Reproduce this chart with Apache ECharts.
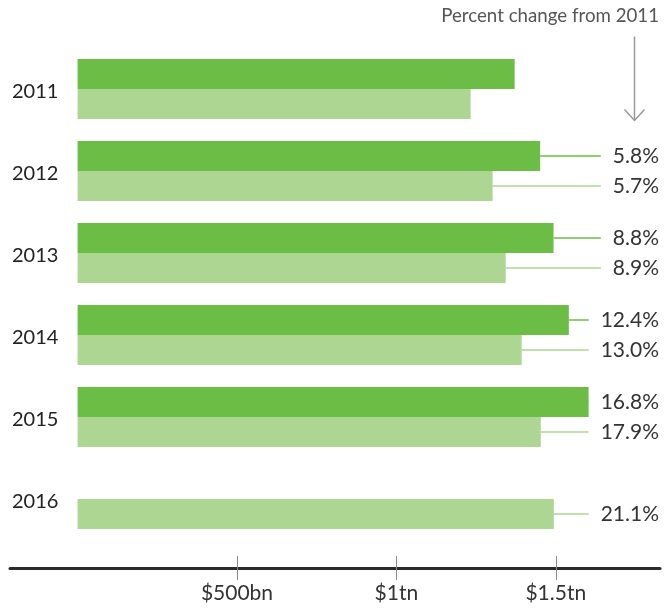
<!DOCTYPE html>
<html>
<head>
<meta charset="utf-8">
<script src="https://cdn.jsdelivr.net/npm/echarts@6/dist/echarts.min.js"></script>
<style>
  html, body { margin: 0; padding: 0; background: #fff; }
  #chart { width: 671px; height: 609px; }
</style>
</head>
<body>
<div id="chart"></div>
<script>
// values in $bn
const years = ['2011', '2012', '2013', '2014', '2015', '2016'];
const darkValues = [1371, 1451, 1493, 1541, 1603, null];
const lightValues = [1233, 1302, 1343, 1393, 1453, 1494];
const darkChange = [null, '5.8%', '8.8%', '12.4%', '16.8%', null];
const lightChange = [null, '5.7%', '8.9%', '13.0%', '17.9%', '21.1%'];
const tickValues = [500, 1000, 1500];
const tickLabels = ['$500bn', '$1tn', '$1.5tn'];

const DARK = '#6cbd45';
const LIGHT = '#add692';
const FONT = 'Lato';
const BAR = 30;

// one entry per percentage label
const labels = [];
years.forEach((y, i) => {
  if (darkChange[i]) labels.push({ value: darkValues[i], idx: i, text: darkChange[i], shift: -BAR / 2, color: DARK });
  if (lightChange[i]) labels.push({ value: lightValues[i], idx: i, text: lightChange[i], shift: BAR / 2, color: LIGHT });
});

const chart = echarts.init(document.getElementById('chart'));

const axisCommon = {
  type: 'value',
  min: -212,
  max: 1827,
  position: 'bottom',
  offset: 28,
  splitLine: { show: false },
};

chart.setOption({
  animation: false,
  grid: { left: 10, right: 11, top: 48, bottom: 69 },
  xAxis: [
    {
      ...axisCommon,
      axisLine: { show: true, onZero: false, lineStyle: { color: '#2b2b2b', width: 3 } },
      axisTick: { show: true, length: 12, customValues: tickValues, lineStyle: { color: '#8a8a8a', width: 1 } },
      axisLabel: {
        show: true,
        customValues: tickValues,
        margin: 15,
        color: '#333',
        fontFamily: FONT,
        fontSize: 21,
        formatter: v => tickLabels[tickValues.indexOf(v)] || ''
      },
    },
    {
      ...axisCommon,
      axisLine: { show: false },
      axisTick: { show: true, inside: true, length: 12, customValues: tickValues, lineStyle: { color: '#8a8a8a', width: 1 } },
      axisLabel: { show: false },
    }
  ],
  yAxis: {
    type: 'category',
    data: years,
    inverse: true,
    axisLine: { show: false, onZero: false },
    axisTick: { show: false },
    axisLabel: {
      align: 'left',
      verticalAlign: 'top',
      lineHeight: 6,
      margin: -2,
      color: '#222',
      fontFamily: FONT,
      fontSize: 20
    }
  },
  graphic: [
    {
      type: 'text',
      right: 12,
      top: 6,
      style: { text: 'Percent change from 2011', fill: '#555', font: '18.7px ' + FONT }
    },
    {
      type: 'group',
      left: 622,
      top: 34,
      children: [
        { type: 'line', shape: { x1: 10, y1: 0, x2: 10, y2: 84 }, style: { stroke: '#999', lineWidth: 1.5 } },
        { type: 'polyline', shape: { points: [[0, 73], [10, 84], [20, 73]] }, style: { stroke: '#999', lineWidth: 1.5, fill: null } }
      ]
    }
  ],
  series: [
    {
      name: 'dark',
      type: 'bar',
      barWidth: BAR,
      barGap: '0%',
      itemStyle: { color: DARK },
      data: darkValues
    },
    {
      name: 'light',
      type: 'bar',
      barWidth: BAR,
      barGap: '0%',
      itemStyle: { color: LIGHT },
      data: lightValues
    },
    {
      name: 'change',
      type: 'custom',
      encode: { x: 0, y: 1 },
      data: labels.map(l => [l.value, l.idx]),
      renderItem: function (params, api) {
        const l = labels[params.dataIndex];
        const p = api.coord([api.value(0), api.value(1)]);
        const y = p[1] + l.shift;
        const right = api.getWidth() - 12;
        return {
          type: 'group',
          children: [
            { type: 'line', shape: { x1: p[0], y1: y, x2: right - 8, y2: y }, style: { stroke: l.color, lineWidth: 1.5 } },
            {
              type: 'text',
              x: right,
              y: y,
              style: {
                text: l.text, align: 'right', verticalAlign: 'middle',
                fill: '#333', font: '21px ' + FONT,
                backgroundColor: '#fff', padding: [2, 0, 2, 12]
              }
            }
          ]
        };
      }
    }
  ]
});
</script>
</body>
</html>
